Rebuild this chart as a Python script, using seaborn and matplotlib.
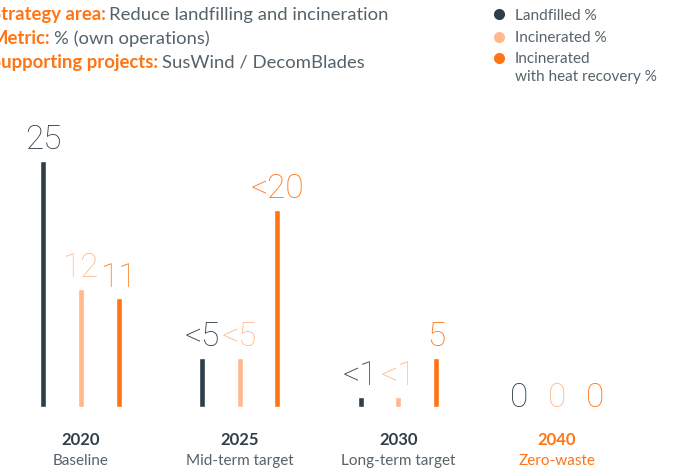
import pandas as pd
import matplotlib.pyplot as plt
import seaborn as sns

years = ["2020", "2025", "2030", "2040"]
stages = ["Baseline", "Mid-term target", "Long-term target", "Zero-waste"]
series = ["Landfilled %", "Incinerated %", "Incinerated\nwith heat recovery %"]

landfilled = [25, 5, 1, 0]
incinerated = [12, 5, 1, 0]
heat_recovery = [11, 20, 5, 0]

landfilled_labels = ["25", "<5", "<1", "0"]
incinerated_labels = ["12", "<5", "<1", "0"]
heat_recovery_labels = ["11", "<20", "5", "0"]

header_keys = ["Strategy area:", "Metric:", "Supporting projects:"]
header_values = ["Reduce landfilling and incineration", "% (own operations)", "SusWind / DecomBlades"]

colors = ["#2e3f49", "#ffb98d", "#ff7516"]
dark = "#2e3f49"
orange = "#ff7516"
grey = "#56626a"

df = pd.DataFrame({
    "year": years * 3,
    "series": [s for s in series for _ in years],
    "value": landfilled + incinerated + heat_recovery,
    "label": landfilled_labels + incinerated_labels + heat_recovery_labels,
})

sns.set_theme(style="white")
plt.rcParams["font.family"] = ["Lato", "DejaVu Sans"]

W, H = 681, 470
fig = plt.figure(figsize=(W / 100, H / 100), dpi=100)

# main axes placed so that groups sit where the reference has them
ax = fig.add_axes([1.65 / W, 63.3 / H, 634.8 / W, 295.2 / H])
sns.barplot(
    data=df, x="year", y="value", hue="series", hue_order=series,
    palette=colors, width=0.7125, gap=0.84, saturation=1,
    legend=False, ax=ax,
)
ax.set_xlim(-0.5, 3.5)
ax.set_ylim(0, 30)
ax.set_xlabel("")
ax.set_ylabel("")
ax.set_xticks([])
ax.set_yticks([])
sns.despine(ax=ax, left=True, bottom=True)

# value labels above the bars
for container, s in zip(ax.containers, series):
    sub = df[df["series"] == s]
    color = colors[series.index(s)]
    for bar, val, lab in zip(container.patches, sub["value"], sub["label"]):
        xc = bar.get_x() + bar.get_width() / 2
        y = val + 1.2 if val > 0 else 0
        ax.text(xc, y, lab, ha="center", va="baseline", fontsize=24,
                family=["Roboto", "Lato", "DejaVu Sans"],
                fontweight="light", color=color, clip_on=False)

# group labels under the axis
for i, (yr, st) in enumerate(zip(years, stages)):
    c = orange if yr == "2040" else dark
    c2 = orange if yr == "2040" else grey
    ax.text(i, -0.129, yr, transform=ax.get_xaxis_transform(), ha="center",
            va="baseline", fontsize=12, fontweight="bold", color=c)
    ax.text(i, -0.197, st, transform=ax.get_xaxis_transform(), ha="center",
            va="baseline", fontsize=11, color=c2)

# overlay in pixel coordinates for header and legend
ov = fig.add_axes([0, 0, 1, 1], facecolor="none")
ov.set_xlim(0, W)
ov.set_ylim(H, 0)
ov.axis("off")

for k, (key, val) in enumerate(zip(header_keys, header_values)):
    yb = 20 + 24 * k
    t = ov.text(-9, yb, key, fontsize=13.3, fontweight="bold", color=orange,
                va="baseline", ha="left")
    ov.annotate(val, xy=(1, 0), xycoords=t, xytext=(2.5, 0),
                textcoords="offset points", fontsize=13.3, color=grey,
                va="bottom", ha="left")

legend_y = [14, 36.5, 57.5]
for c, s, yy in zip(colors, series, legend_y):
    ov.scatter([499], [yy], s=64, color=c, linewidths=0)
    ov.text(515, yy - 5.5, s, fontsize=11, color=grey, va="top",
            ha="left", linespacing=1.38)

fig.savefig("out.png", dpi=100)
